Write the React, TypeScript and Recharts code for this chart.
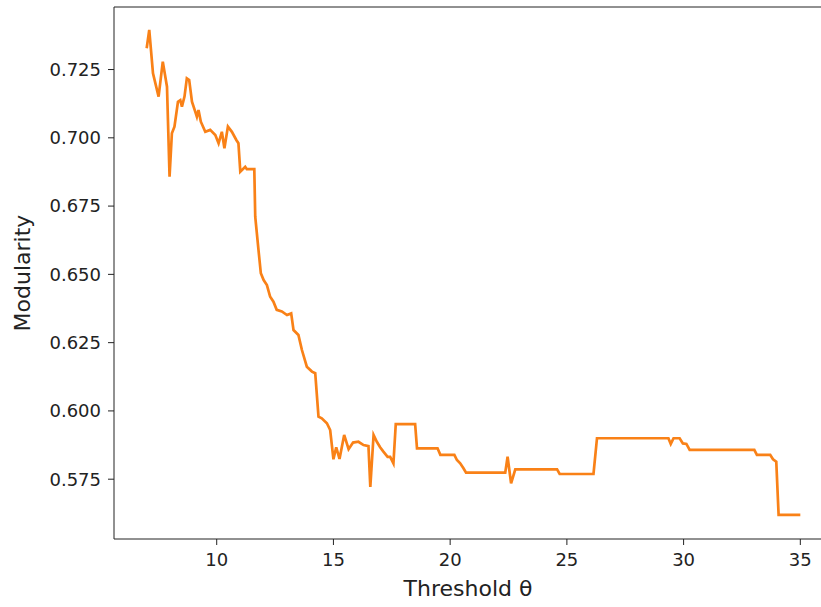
import { LineChart, Line, XAxis, YAxis } from "recharts"

// threshold theta values
const thresholds = [
  7.0, 7.11, 7.27, 7.51, 7.69, 7.87, 7.98, 8.08, 8.19, 8.34, 8.44, 8.51, 8.62, 8.72, 8.82, 8.94,
  9.08, 9.15, 9.22, 9.32, 9.51, 9.72, 9.94, 10.08, 10.22, 10.33, 10.48, 10.65, 10.84, 10.93, 11.01,
  11.22, 11.29, 11.61, 11.65, 11.79, 11.89, 12.01, 12.15, 12.29, 12.43, 12.57, 12.79, 13.01, 13.19,
  13.29, 13.5, 13.65, 13.86, 14.08, 14.22, 14.36, 14.5, 14.72, 14.86, 15.0, 15.12, 15.26, 15.46,
  15.65, 15.84, 16.07, 16.29, 16.5, 16.58, 16.72, 16.86, 17.0, 17.14, 17.32, 17.43, 17.57, 17.67,
  18.5, 18.58, 19.46, 19.58, 20.18, 20.29, 20.43, 20.57, 20.68, 22.36, 22.46, 22.61, 22.79, 24.58,
  24.69, 26.14, 26.29, 29.35, 29.45, 29.57, 29.83, 29.97, 30.12, 30.26, 33.03, 33.14, 33.71, 33.83,
  33.97, 34.07, 35.0,
]

const modularity = [
  0.7328, 0.7395, 0.7236, 0.7151, 0.7279, 0.7187, 0.6858, 0.7017, 0.7041, 0.7132, 0.7138, 0.7114,
  0.7151, 0.7218, 0.7212, 0.7132, 0.7096, 0.7077, 0.7102, 0.7059, 0.7022, 0.7029, 0.701, 0.698,
  0.7022, 0.6962, 0.7041, 0.7022, 0.6992, 0.698, 0.6876, 0.6894, 0.6885, 0.6885, 0.6711, 0.6589,
  0.6504, 0.6479, 0.6461, 0.6418, 0.64, 0.637, 0.6364, 0.6351, 0.6357, 0.6296, 0.6278, 0.6223,
  0.6162, 0.6144, 0.6138, 0.5979, 0.5973, 0.5955, 0.593, 0.5823, 0.5867, 0.5824, 0.5912, 0.586,
  0.5884, 0.5887, 0.5875, 0.5871, 0.5722, 0.5912, 0.5887, 0.5867, 0.5851, 0.5832, 0.5832, 0.5808,
  0.5952, 0.5952, 0.5863, 0.5863, 0.5839, 0.5839, 0.582, 0.5808, 0.579, 0.5774, 0.5774, 0.5832,
  0.5735, 0.5786, 0.5786, 0.5769, 0.5769, 0.59, 0.59, 0.5879, 0.59, 0.59, 0.5881, 0.5879, 0.5857,
  0.5857, 0.5839, 0.5839, 0.5823, 0.5814, 0.5619, 0.5619,
]

const xTicks = [10, 15, 20, 25, 30, 35]
const yTicks = [0.575, 0.6, 0.625, 0.65, 0.675, 0.7, 0.725]

const data = thresholds.map((t, i) => ({ t, m: modularity[i] }))

const tickStyle = { fontFamily: "DejaVu Sans", fontSize: 18, fill: "#222" }
const labelFont = { fontFamily: "DejaVu Sans", fontSize: 22, fill: "#222" }

export default function App() {
  return (
    <div style={{ position: "absolute", left: 0, top: 0, width: 821, height: 607, overflow: "hidden", background: "#fff" }}>
      <LineChart width={850} height={607} data={data} margin={{ top: 6, right: 17, left: 0, bottom: 0 }}>
        {/* top spine only, no ticks */}
        <XAxis
          xAxisId="top"
          orientation="top"
          dataKey="t"
          type="number"
          domain={[5.6, 36.4]}
          height={1}
          tick={false}
          tickLine={false}
          stroke="#222"
        />
        <XAxis
          dataKey="t"
          type="number"
          domain={[5.6, 36.4]}
          ticks={xTicks}
          height={68}
          tick={tickStyle}
          tickSize={6}
          tickMargin={8}
          stroke="#222"
          allowDataOverflow
          label={{
            content: () => (
              <text x={468} y={596} textAnchor="middle" {...labelFont}>
                Threshold θ
              </text>
            ),
          }}
        />
        <YAxis
          type="number"
          domain={[0.5531, 0.7479]}
          ticks={yTicks}
          width={114}
          tick={tickStyle}
          tickSize={6}
          tickMargin={7}
          stroke="#222"
          allowDataOverflow
          tickFormatter={(v: number) => v.toFixed(3)}
          label={{
            content: () => (
              <text x={30} y={273} textAnchor="middle" transform="rotate(-90 30 273)" {...labelFont}>
                Modularity
              </text>
            ),
          }}
        />
        <Line type="linear" dataKey="m" stroke="#f98117" strokeWidth={2.7} dot={false} isAnimationActive={false} />
      </LineChart>
    </div>
  )
}
